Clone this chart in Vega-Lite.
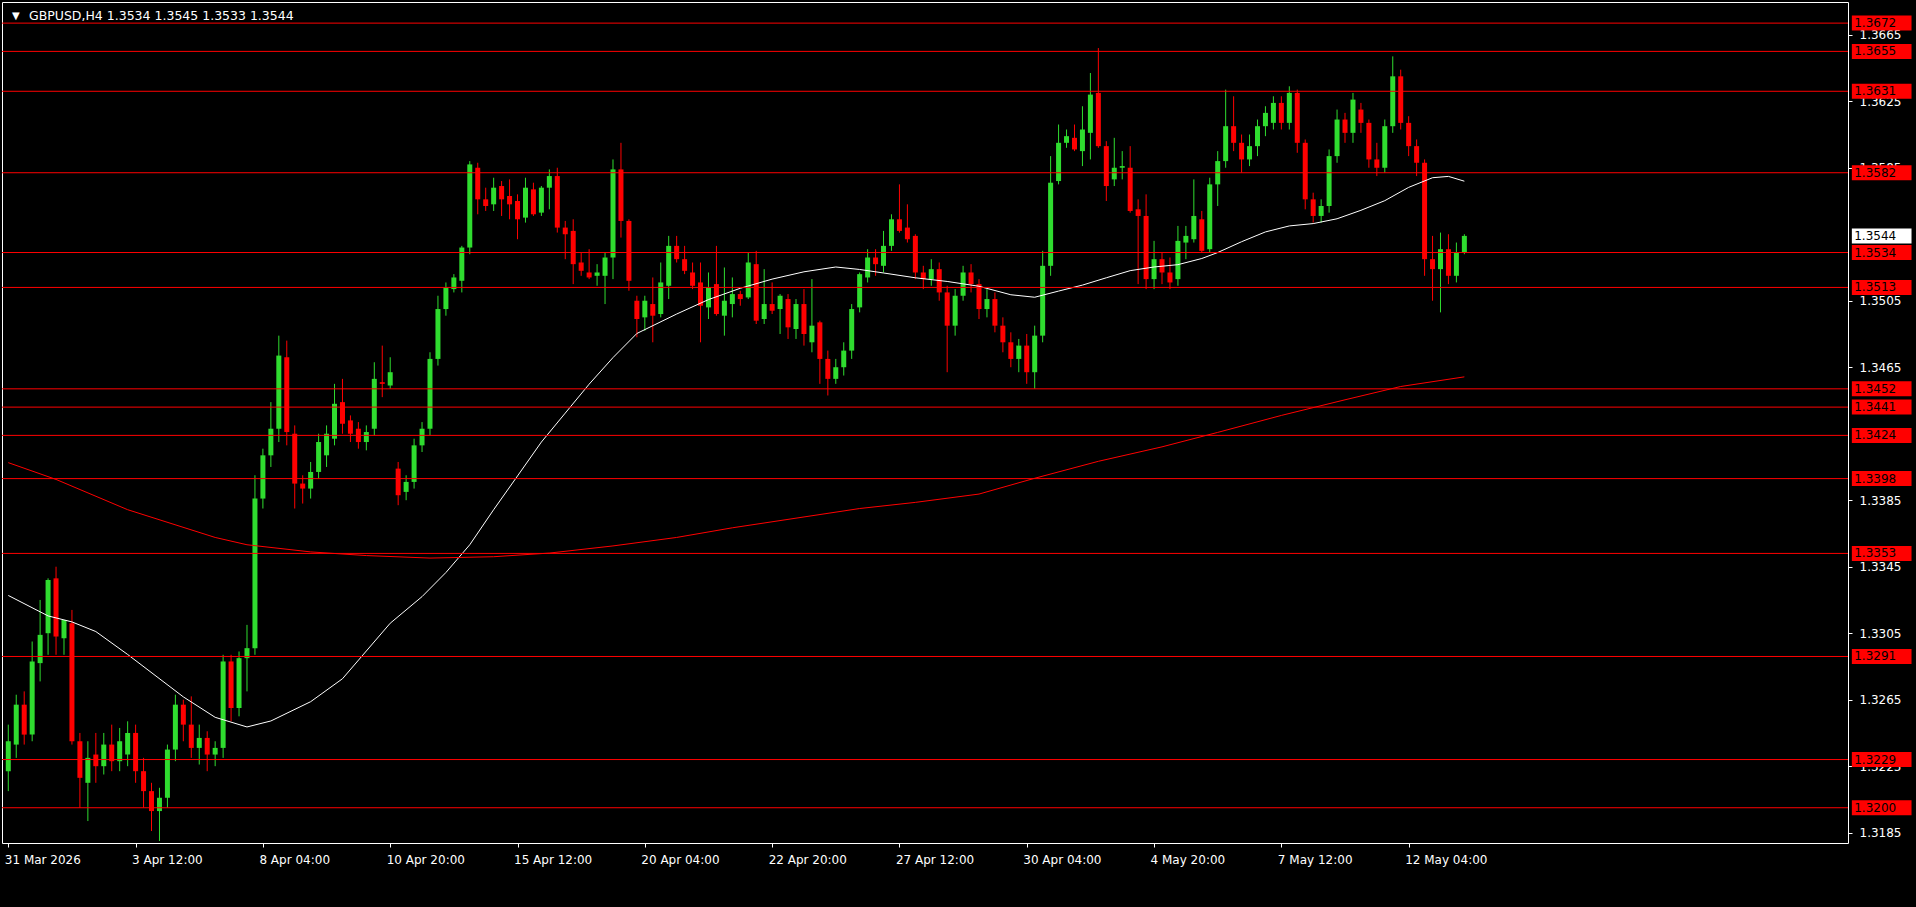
{
"$schema": "https://vega.github.io/schema/vega-lite/v6.json",
"width": 1846, "height": 841, "autosize": "none",
"padding": {"left": 2, "top": 2, "right": 68, "bottom": 64},
"background": "#000000",
"config": {"view": {"stroke": "#ffffff", "strokeWidth": 1, "fill": "#000000"}, "font": "DejaVu Sans"},
"datasets": {
"candles": [
{"i":0,"o":1.3222,"h":1.3250,"l":1.3210,"c":1.3240},
{"i":1,"o":1.3238,"h":1.3268,"l":1.3230,"c":1.3262},
{"i":2,"o":1.3262,"h":1.3270,"l":1.3238,"c":1.3244},
{"i":3,"o":1.3244,"h":1.3300,"l":1.3240,"c":1.3288},
{"i":4,"o":1.3287,"h":1.3325,"l":1.3276,"c":1.3304},
{"i":5,"o":1.3305,"h":1.3338,"l":1.3292,"c":1.3337},
{"i":6,"o":1.3338,"h":1.3345,"l":1.3292,"c":1.3303},
{"i":7,"o":1.3302,"h":1.3313,"l":1.3292,"c":1.3313},
{"i":8,"o":1.3311,"h":1.3319,"l":1.3238,"c":1.3240},
{"i":9,"o":1.3240,"h":1.3245,"l":1.3200,"c":1.3218},
{"i":10,"o":1.3215,"h":1.3240,"l":1.3192,"c":1.3230},
{"i":11,"o":1.3232,"h":1.3245,"l":1.3215,"c":1.3225},
{"i":12,"o":1.3225,"h":1.3245,"l":1.3220,"c":1.3238},
{"i":13,"o":1.3238,"h":1.3250,"l":1.3222,"c":1.3228},
{"i":14,"o":1.3228,"h":1.3248,"l":1.3222,"c":1.3240},
{"i":15,"o":1.3232,"h":1.3252,"l":1.3225,"c":1.3245},
{"i":16,"o":1.3245,"h":1.3250,"l":1.3215,"c":1.3222},
{"i":17,"o":1.3222,"h":1.3230,"l":1.3200,"c":1.3210},
{"i":18,"o":1.3210,"h":1.3215,"l":1.3186,"c":1.3198},
{"i":19,"o":1.3198,"h":1.3212,"l":1.3180,"c":1.3206},
{"i":20,"o":1.3206,"h":1.3238,"l":1.3200,"c":1.3235},
{"i":21,"o":1.3235,"h":1.3268,"l":1.3228,"c":1.3262},
{"i":22,"o":1.3262,"h":1.3265,"l":1.3240,"c":1.3250},
{"i":23,"o":1.3250,"h":1.3267,"l":1.3230,"c":1.3236},
{"i":24,"o":1.3236,"h":1.3250,"l":1.3226,"c":1.3242},
{"i":25,"o":1.3242,"h":1.3246,"l":1.3222,"c":1.3232},
{"i":26,"o":1.3232,"h":1.3240,"l":1.3225,"c":1.3236},
{"i":27,"o":1.3236,"h":1.3292,"l":1.3230,"c":1.3288},
{"i":28,"o":1.3288,"h":1.3292,"l":1.3252,"c":1.3260},
{"i":29,"o":1.3260,"h":1.3294,"l":1.3255,"c":1.3290},
{"i":30,"o":1.3290,"h":1.3310,"l":1.3270,"c":1.3296},
{"i":31,"o":1.3296,"h":1.3400,"l":1.3292,"c":1.3386},
{"i":32,"o":1.3386,"h":1.3416,"l":1.3380,"c":1.3412},
{"i":33,"o":1.3412,"h":1.3444,"l":1.3405,"c":1.3428},
{"i":34,"o":1.3428,"h":1.3484,"l":1.3420,"c":1.3472},
{"i":35,"o":1.3471,"h":1.3481,"l":1.3418,"c":1.3426},
{"i":36,"o":1.3425,"h":1.3430,"l":1.3380,"c":1.3395},
{"i":37,"o":1.3395,"h":1.3400,"l":1.3383,"c":1.3392},
{"i":38,"o":1.3392,"h":1.3408,"l":1.3386,"c":1.3402},
{"i":39,"o":1.3402,"h":1.3425,"l":1.3398,"c":1.3420},
{"i":40,"o":1.3412,"h":1.3430,"l":1.3405,"c":1.3425},
{"i":41,"o":1.3422,"h":1.3455,"l":1.3418,"c":1.3443},
{"i":42,"o":1.3444,"h":1.3458,"l":1.3425,"c":1.3431},
{"i":43,"o":1.3433,"h":1.3436,"l":1.3420,"c":1.3425},
{"i":44,"o":1.3428,"h":1.3432,"l":1.3416,"c":1.3420},
{"i":45,"o":1.3420,"h":1.3430,"l":1.3415,"c":1.3426},
{"i":46,"o":1.3428,"h":1.3468,"l":1.3424,"c":1.3458},
{"i":47,"o":1.3456,"h":1.3478,"l":1.3447,"c":1.3455},
{"i":48,"o":1.3454,"h":1.3471,"l":1.3452,"c":1.3462},
{"i":49,"o":1.3404,"h":1.3408,"l":1.3382,"c":1.3388},
{"i":50,"o":1.3390,"h":1.3400,"l":1.3385,"c":1.3396},
{"i":51,"o":1.3396,"h":1.3422,"l":1.3392,"c":1.3418},
{"i":52,"o":1.3418,"h":1.3432,"l":1.3414,"c":1.3428},
{"i":53,"o":1.3428,"h":1.3474,"l":1.3424,"c":1.3470},
{"i":54,"o":1.3470,"h":1.3508,"l":1.3466,"c":1.3500},
{"i":55,"o":1.3500,"h":1.3516,"l":1.3496,"c":1.3513},
{"i":56,"o":1.3512,"h":1.3521,"l":1.3510,"c":1.3519},
{"i":57,"o":1.3517,"h":1.3538,"l":1.3510,"c":1.3537},
{"i":58,"o":1.3537,"h":1.3589,"l":1.3533,"c":1.3587},
{"i":59,"o":1.3585,"h":1.3588,"l":1.3557,"c":1.3566},
{"i":60,"o":1.3566,"h":1.3573,"l":1.3559,"c":1.3562},
{"i":61,"o":1.3563,"h":1.3579,"l":1.3559,"c":1.3573},
{"i":62,"o":1.3574,"h":1.3577,"l":1.3556,"c":1.3566},
{"i":63,"o":1.3568,"h":1.3578,"l":1.3554,"c":1.3563},
{"i":64,"o":1.3565,"h":1.3569,"l":1.3542,"c":1.3554},
{"i":65,"o":1.3555,"h":1.3579,"l":1.3552,"c":1.3573},
{"i":66,"o":1.3572,"h":1.3576,"l":1.3556,"c":1.3557},
{"i":67,"o":1.3558,"h":1.3574,"l":1.3556,"c":1.3573},
{"i":68,"o":1.3573,"h":1.3584,"l":1.3560,"c":1.3580},
{"i":69,"o":1.3580,"h":1.3585,"l":1.3546,"c":1.3549},
{"i":70,"o":1.3549,"h":1.3553,"l":1.3530,"c":1.3545},
{"i":71,"o":1.3547,"h":1.3554,"l":1.3515,"c":1.3527},
{"i":72,"o":1.3528,"h":1.3534,"l":1.3520,"c":1.3523},
{"i":73,"o":1.3522,"h":1.3536,"l":1.3518,"c":1.3519},
{"i":74,"o":1.3520,"h":1.3527,"l":1.3514,"c":1.3522},
{"i":75,"o":1.3520,"h":1.3534,"l":1.3503,"c":1.3531},
{"i":76,"o":1.3531,"h":1.3590,"l":1.3518,"c":1.3584},
{"i":77,"o":1.3584,"h":1.3600,"l":1.3543,"c":1.3553},
{"i":78,"o":1.3553,"h":1.3554,"l":1.3511,"c":1.3517},
{"i":79,"o":1.3505,"h":1.3508,"l":1.3483,"c":1.3494},
{"i":80,"o":1.3495,"h":1.3508,"l":1.3487,"c":1.3505},
{"i":81,"o":1.3503,"h":1.3519,"l":1.3480,"c":1.3496},
{"i":82,"o":1.3497,"h":1.3528,"l":1.3495,"c":1.3516},
{"i":83,"o":1.3514,"h":1.3544,"l":1.3506,"c":1.3538},
{"i":84,"o":1.3538,"h":1.3544,"l":1.3528,"c":1.3530},
{"i":85,"o":1.3530,"h":1.3538,"l":1.3521,"c":1.3523},
{"i":86,"o":1.3522,"h":1.3528,"l":1.3512,"c":1.3514},
{"i":87,"o":1.3516,"h":1.3528,"l":1.3480,"c":1.3502},
{"i":88,"o":1.3501,"h":1.3522,"l":1.3494,"c":1.3513},
{"i":89,"o":1.3515,"h":1.3538,"l":1.3496,"c":1.3497},
{"i":90,"o":1.3496,"h":1.3525,"l":1.3484,"c":1.3505},
{"i":91,"o":1.3503,"h":1.3519,"l":1.3495,"c":1.3509},
{"i":92,"o":1.3509,"h":1.3511,"l":1.3502,"c":1.3506},
{"i":93,"o":1.3507,"h":1.3534,"l":1.3506,"c":1.3528},
{"i":94,"o":1.3527,"h":1.3535,"l":1.3491,"c":1.3493},
{"i":95,"o":1.3494,"h":1.3524,"l":1.3491,"c":1.3503},
{"i":96,"o":1.3503,"h":1.3516,"l":1.3497,"c":1.3499},
{"i":97,"o":1.3500,"h":1.3509,"l":1.3485,"c":1.3508},
{"i":98,"o":1.3506,"h":1.3509,"l":1.3482,"c":1.3489},
{"i":99,"o":1.3488,"h":1.3506,"l":1.3482,"c":1.3503},
{"i":100,"o":1.3503,"h":1.3512,"l":1.3478,"c":1.3485},
{"i":101,"o":1.3480,"h":1.3518,"l":1.3474,"c":1.3490},
{"i":102,"o":1.3492,"h":1.3493,"l":1.3455,"c":1.3470},
{"i":103,"o":1.3470,"h":1.3475,"l":1.3448,"c":1.3458},
{"i":104,"o":1.3458,"h":1.3470,"l":1.3455,"c":1.3465},
{"i":105,"o":1.3465,"h":1.3480,"l":1.3460,"c":1.3475},
{"i":106,"o":1.3475,"h":1.3503,"l":1.3470,"c":1.3500},
{"i":107,"o":1.3501,"h":1.3522,"l":1.3498,"c":1.3521},
{"i":108,"o":1.3519,"h":1.3536,"l":1.3516,"c":1.3531},
{"i":109,"o":1.3531,"h":1.3536,"l":1.3520,"c":1.3527},
{"i":110,"o":1.3526,"h":1.3547,"l":1.3522,"c":1.3538},
{"i":111,"o":1.3538,"h":1.3557,"l":1.3535,"c":1.3554},
{"i":112,"o":1.3554,"h":1.3575,"l":1.3546,"c":1.3547},
{"i":113,"o":1.3549,"h":1.3563,"l":1.3540,"c":1.3542},
{"i":114,"o":1.3544,"h":1.3545,"l":1.3518,"c":1.3522},
{"i":115,"o":1.3522,"h":1.3526,"l":1.3512,"c":1.3518},
{"i":116,"o":1.3518,"h":1.3530,"l":1.3514,"c":1.3524},
{"i":117,"o":1.3524,"h":1.3528,"l":1.3505,"c":1.3510},
{"i":118,"o":1.3510,"h":1.3514,"l":1.3462,"c":1.3490},
{"i":119,"o":1.3490,"h":1.3512,"l":1.3484,"c":1.3508},
{"i":120,"o":1.3508,"h":1.3526,"l":1.3505,"c":1.3522},
{"i":121,"o":1.3522,"h":1.3527,"l":1.3510,"c":1.3515},
{"i":122,"o":1.3515,"h":1.3518,"l":1.3494,"c":1.3500},
{"i":123,"o":1.3500,"h":1.3512,"l":1.3495,"c":1.3506},
{"i":124,"o":1.3506,"h":1.3510,"l":1.3486,"c":1.3490},
{"i":125,"o":1.3490,"h":1.3495,"l":1.3474,"c":1.3480},
{"i":126,"o":1.3480,"h":1.3486,"l":1.3465,"c":1.3470},
{"i":127,"o":1.3470,"h":1.3482,"l":1.3462,"c":1.3478},
{"i":128,"o":1.3478,"h":1.3485,"l":1.3455,"c":1.3462},
{"i":129,"o":1.3462,"h":1.3490,"l":1.3452,"c":1.3484},
{"i":130,"o":1.3484,"h":1.3535,"l":1.3480,"c":1.3526},
{"i":131,"o":1.3526,"h":1.3592,"l":1.3520,"c":1.3576},
{"i":132,"o":1.3577,"h":1.3611,"l":1.3575,"c":1.3600},
{"i":133,"o":1.3600,"h":1.3608,"l":1.3597,"c":1.3604},
{"i":134,"o":1.3603,"h":1.3611,"l":1.3595,"c":1.3596},
{"i":135,"o":1.3595,"h":1.3622,"l":1.3586,"c":1.3608},
{"i":136,"o":1.3606,"h":1.3642,"l":1.3590,"c":1.3629},
{"i":137,"o":1.3630,"h":1.3657,"l":1.3597,"c":1.3598},
{"i":138,"o":1.3598,"h":1.3601,"l":1.3565,"c":1.3574},
{"i":139,"o":1.3578,"h":1.3603,"l":1.3574,"c":1.3585},
{"i":140,"o":1.3585,"h":1.3595,"l":1.3578,"c":1.3586},
{"i":141,"o":1.3585,"h":1.3598,"l":1.3558,"c":1.3559},
{"i":142,"o":1.3560,"h":1.3566,"l":1.3515,"c":1.3556},
{"i":143,"o":1.3556,"h":1.3569,"l":1.3512,"c":1.3518},
{"i":144,"o":1.3518,"h":1.3541,"l":1.3512,"c":1.3530},
{"i":145,"o":1.3530,"h":1.3534,"l":1.3515,"c":1.3522},
{"i":146,"o":1.3522,"h":1.3531,"l":1.3512,"c":1.3516},
{"i":147,"o":1.3518,"h":1.3550,"l":1.3514,"c":1.3541},
{"i":148,"o":1.3540,"h":1.3550,"l":1.3530,"c":1.3544},
{"i":149,"o":1.3542,"h":1.3578,"l":1.3540,"c":1.3556},
{"i":150,"o":1.3554,"h":1.3559,"l":1.3534,"c":1.3535},
{"i":151,"o":1.3536,"h":1.3579,"l":1.3534,"c":1.3575},
{"i":152,"o":1.3575,"h":1.3595,"l":1.3562,"c":1.3589},
{"i":153,"o":1.3589,"h":1.3632,"l":1.3585,"c":1.3610},
{"i":154,"o":1.3610,"h":1.3628,"l":1.3595,"c":1.3600},
{"i":155,"o":1.3600,"h":1.3605,"l":1.3582,"c":1.3590},
{"i":156,"o":1.3590,"h":1.3605,"l":1.3586,"c":1.3598},
{"i":157,"o":1.3598,"h":1.3614,"l":1.3592,"c":1.3610},
{"i":158,"o":1.3610,"h":1.3622,"l":1.3604,"c":1.3618},
{"i":159,"o":1.3612,"h":1.3628,"l":1.3608,"c":1.3624},
{"i":160,"o":1.3624,"h":1.3628,"l":1.3608,"c":1.3612},
{"i":161,"o":1.3612,"h":1.3634,"l":1.3608,"c":1.3630},
{"i":162,"o":1.3630,"h":1.3632,"l":1.3594,"c":1.3600},
{"i":163,"o":1.3600,"h":1.3602,"l":1.3560,"c":1.3566},
{"i":164,"o":1.3566,"h":1.3570,"l":1.3552,"c":1.3556},
{"i":165,"o":1.3556,"h":1.3566,"l":1.3552,"c":1.3562},
{"i":166,"o":1.3562,"h":1.3596,"l":1.3558,"c":1.3592},
{"i":167,"o":1.3592,"h":1.3620,"l":1.3588,"c":1.3614},
{"i":168,"o":1.3614,"h":1.3618,"l":1.3600,"c":1.3606},
{"i":169,"o":1.3606,"h":1.3630,"l":1.3600,"c":1.3626},
{"i":170,"o":1.3620,"h":1.3624,"l":1.3606,"c":1.3612},
{"i":171,"o":1.3612,"h":1.3614,"l":1.3585,"c":1.3590},
{"i":172,"o":1.3590,"h":1.3600,"l":1.3580,"c":1.3585},
{"i":173,"o":1.3585,"h":1.3614,"l":1.3582,"c":1.3610},
{"i":174,"o":1.3610,"h":1.3652,"l":1.3606,"c":1.3640},
{"i":175,"o":1.3640,"h":1.3644,"l":1.3608,"c":1.3612},
{"i":176,"o":1.3612,"h":1.3616,"l":1.3592,"c":1.3598},
{"i":177,"o":1.3598,"h":1.3602,"l":1.3580,"c":1.3588},
{"i":178,"o":1.3588,"h":1.3590,"l":1.3520,"c":1.3530},
{"i":179,"o":1.3530,"h":1.3544,"l":1.3505,"c":1.3524},
{"i":180,"o":1.3524,"h":1.3546,"l":1.3498,"c":1.3536},
{"i":181,"o":1.3536,"h":1.3545,"l":1.3515,"c":1.3520},
{"i":182,"o":1.3520,"h":1.3540,"l":1.3516,"c":1.3534},
{"i":183,"o":1.3534,"h":1.3545,"l":1.3533,"c":1.3544}
],
"fast": [
{"i":0,"v":1.33277},{"i":5,"v":1.33154},{"i":8,"v":1.33118},{"i":11,"v":1.33060},{"i":15,"v":1.32922},{"i":22,"v":1.32667},{"i":26,"v":1.32544},{"i":30,"v":1.32486},{"i":33,"v":1.32522},{"i":38,"v":1.32638},{"i":42,"v":1.32776},{"i":45,"v":1.32943},{"i":48,"v":1.33110},{"i":52,"v":1.33270},{"i":55,"v":1.33415},{"i":58,"v":1.33582},{"i":61,"v":1.33793},{"i":64,"v":1.33996},{"i":67,"v":1.34200},{"i":70,"v":1.34374},{"i":73,"v":1.34548},{"i":76,"v":1.34708},{"i":79,"v":1.34853},{"i":84,"v":1.34970},{"i":88,"v":1.35057},{"i":92,"v":1.35125},{"i":96,"v":1.35180},{"i":100,"v":1.35224},{"i":104,"v":1.35253},{"i":107,"v":1.35238},{"i":110,"v":1.35217},{"i":114,"v":1.35188},{"i":118,"v":1.35166},{"i":122,"v":1.35137},{"i":126,"v":1.35086},{"i":129,"v":1.35071},{"i":132,"v":1.35108},{"i":135,"v":1.35144},{"i":138,"v":1.35188},{"i":141,"v":1.35231},{"i":144,"v":1.35253},{"i":147,"v":1.35267},{"i":150,"v":1.35304},{"i":152,"v":1.35340},{"i":155,"v":1.35405},{"i":158,"v":1.35464},{"i":161,"v":1.35500},{"i":164,"v":1.35514},{"i":167,"v":1.35543},{"i":170,"v":1.35594},{"i":173,"v":1.35652},{"i":176,"v":1.35732},{"i":179,"v":1.35790},{"i":181,"v":1.35798},{"i":183,"v":1.35769}
],
"slow": [
{"i":0,"v":1.34076},{"i":6,"v":1.33975},{"i":15,"v":1.33793},{"i":26,"v":1.33626},{"i":30,"v":1.33582},{"i":38,"v":1.33539},{"i":45,"v":1.33517},{"i":53,"v":1.33502},{"i":61,"v":1.33510},{"i":68,"v":1.33532},{"i":76,"v":1.33575},{"i":84,"v":1.33626},{"i":91,"v":1.33684},{"i":99,"v":1.33742},{"i":107,"v":1.33800},{"i":114,"v":1.33837},{"i":122,"v":1.33887},{"i":129,"v":1.33982},{"i":137,"v":1.34084},{"i":145,"v":1.34171},{"i":152,"v":1.34258},{"i":160,"v":1.34360},{"i":168,"v":1.34454},{"i":175,"v":1.34534},{"i":183,"v":1.34592}
],
"levels": [
{"p":1.3672},{"p":1.3655},{"p":1.3631},{"p":1.3582},{"p":1.3534},{"p":1.3513},{"p":1.3452},{"p":1.3441},{"p":1.3424},{"p":1.3398},{"p":1.3353},{"p":1.3291},{"p":1.3229},{"p":1.3200}
],
"bid": [{"p":1.3544}],
"header": [{"t":"GBPUSD,H4  1.3534 1.3545 1.3533 1.3544","m":"▼"}]
},
"layer": [
{"data":{"name":"candles"},"mark":{"type":"rule","strokeWidth":1},
 "encoding":{
  "x":{"field":"i","type":"quantitative","scale":{"domain":[-0.1625,230.5875],"nice":false,"zero":false},
   "axis":{"title":null,"values":[0,16,32,48,64,80,96,112,128,144,160,176],
    "labelExpr":"['31 Mar 2026','3 Apr 12:00','8 Apr 04:00','10 Apr 20:00','15 Apr 12:00','20 Apr 04:00','22 Apr 20:00','27 Apr 12:00','30 Apr 04:00','4 May 20:00','7 May 12:00','12 May 04:00'][round(datum.value/16)]",
    "labelAlign":"left","labelBaseline":"middle","labelOffset":-4,"labelPadding":12,"tickSize":4,"tickColor":"#ffffff","domain":false,"grid":false,
    "labelColor":"#ffffff","labelFont":"DejaVu Sans","labelFontSize":12,"labelOverlap":false,"labelFlush":false,"labelBound":false}},
  "y":{"field":"l","type":"quantitative","scale":{"domain":[1.31818,1.36817],"nice":false,"zero":false},
   "axis":{"title":null,"orient":"right","values":[1.3185,1.3225,1.3265,1.3305,1.3345,1.3385,1.3465,1.3505,1.3585,1.3625,1.3665],
    "format":".4f","labelAlign":"left","labelBaseline":"middle","labelPadding":7,"tickSize":4,"tickColor":"#ffffff","domain":false,"grid":false,
    "labelColor":"#ffffff","labelFont":"DejaVu Sans","labelFontSize":12,"labelOverlap":false,"labelFlush":false,"labelBound":false}},
  "y2":{"field":"h"},
  "color":{"condition":{"test":"datum.c>=datum.o","value":"#2fdc2f"},"value":"#ff0000"}}},
{"data":{"name":"candles"},"mark":{"type":"bar","size":5},
 "encoding":{"x":{"field":"i","type":"quantitative","title":null},"y":{"field":"o","type":"quantitative","title":null},"y2":{"field":"c"},
  "color":{"condition":{"test":"datum.c>=datum.o","value":"#2fdc2f"},"value":"#ff0000"}}},
{"data":{"name":"fast"},"mark":{"type":"line","color":"#ffffff","strokeWidth":1},
 "encoding":{"x":{"field":"i","type":"quantitative","title":null},"y":{"field":"v","type":"quantitative","title":null}}},
{"data":{"name":"slow"},"mark":{"type":"line","color":"#ff0000","strokeWidth":1},
 "encoding":{"x":{"field":"i","type":"quantitative","title":null},"y":{"field":"v","type":"quantitative","title":null}}},
{"data":{"name":"levels"},"mark":{"type":"rule","color":"#ff0000","strokeWidth":1},
 "encoding":{"y":{"field":"p","type":"quantitative","title":null}}},
{"data":{"name":"levels"},"mark":{"type":"bar","orient":"horizontal","color":"#ff0000","size":15},
 "encoding":{"x":{"datum":231.7,"type":"quantitative"},"x2":{"datum":239.2},"y":{"field":"p","type":"quantitative","title":null}}},
{"data":{"name":"levels"},"mark":{"type":"text","align":"left","baseline":"middle","color":"#000000","font":"DejaVu Sans","fontSize":12},
 "encoding":{"x":{"datum":232.0,"type":"quantitative"},"y":{"field":"p","type":"quantitative","title":null},"text":{"field":"p","format":".4f"}}},
{"data":{"name":"bid"},"mark":{"type":"bar","orient":"horizontal","color":"#ffffff","size":15},
 "encoding":{"x":{"datum":231.7,"type":"quantitative"},"x2":{"datum":239.2},"y":{"field":"p","type":"quantitative","title":null}}},
{"data":{"name":"bid"},"mark":{"type":"text","align":"left","baseline":"middle","color":"#000000","font":"DejaVu Sans","fontSize":12},
 "encoding":{"x":{"datum":232.0,"type":"quantitative"},"y":{"field":"p","type":"quantitative","title":null},"text":{"field":"p","format":".4f"}}},
{"data":{"name":"header"},"mark":{"type":"text","align":"left","baseline":"middle","color":"#ffffff","font":"DejaVu Sans","fontSize":12.5},
 "encoding":{"x":{"datum":2.6,"type":"quantitative"},"y":{"datum":1.36762,"type":"quantitative"},"text":{"field":"t"}}},
{"data":{"name":"header"},"mark":{"type":"text","align":"center","baseline":"middle","color":"#ffffff","font":"DejaVu Sans","fontSize":10},
 "encoding":{"x":{"datum":0.95,"type":"quantitative"},"y":{"datum":1.36762,"type":"quantitative"},"text":{"field":"m"}}}
]
}
